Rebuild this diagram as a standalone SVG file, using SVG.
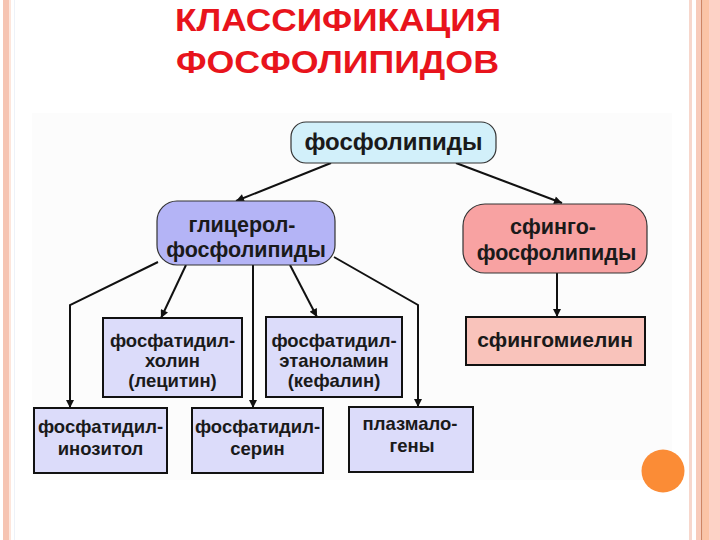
<svg xmlns="http://www.w3.org/2000/svg" width="720" height="540" viewBox="0 0 720 540">
<defs>
<style>
.t{font-family:"Liberation Sans",Arial,sans-serif;font-weight:bold;fill:#1a1a1a;text-anchor:middle}
.title{font-family:"Liberation Sans",Arial,sans-serif;font-weight:bold;fill:#e8141c;text-anchor:middle;font-size:31px}
.box{fill:#dcdcfa;stroke:#111;stroke-width:2}
.con{fill:none;stroke:#111;stroke-width:2}
</style>
<marker id="ah" viewBox="0 0 10 10" refX="10" refY="5" markerWidth="9" markerHeight="8" markerUnits="userSpaceOnUse" orient="auto"><path d="M0,0 L10,5 L0,10 z" fill="#111"/></marker>
</defs>
<rect width="720" height="540" fill="#ffffff"/>
<rect x="32" y="113" width="640" height="367" fill="#fcfcfc"/>
<!-- borders -->
<rect x="3" y="0" width="6" height="540" fill="#f6c4b2"/>
<rect x="9" y="0" width="2" height="540" fill="#fde6dc"/>
<rect x="14" y="0" width="1" height="540" fill="#eef2f8"/>
<rect x="689" y="0" width="3" height="540" fill="#f7d7cc"/>
<rect x="696" y="0" width="5" height="540" fill="#f8cbba"/>
<rect x="701" y="0" width="1.5" height="540" fill="#cf8664"/>
<rect x="702.5" y="0" width="6.5" height="540" fill="#fbc4a6"/>
<rect x="709" y="0" width="11" height="540" fill="#fdd2c6"/>
<!-- title -->
<text class="title" x="338" y="31" textLength="326" lengthAdjust="spacingAndGlyphs">КЛАССИФИКАЦИЯ</text>
<text class="title" x="337.5" y="73" textLength="323" lengthAdjust="spacingAndGlyphs">ФОСФОЛИПИДОВ</text>
<!-- connectors -->
<g id="connectors">
<path class="con" d="M331,163 L236,201" marker-end="url(#ah)"/>
<path class="con" d="M456,163 L562,203" marker-end="url(#ah)"/>
<path class="con" d="M158,262 L70,305 L70,408" marker-end="url(#ah)"/>
<path class="con" d="M186,265 L161,318" marker-end="url(#ah)"/>
<path class="con" d="M253,265 L253,408" marker-end="url(#ah)"/>
<path class="con" d="M290,265 L317,317" marker-end="url(#ah)"/>
<path class="con" d="M334,257 L418,305 L418,407" marker-end="url(#ah)"/>
<path class="con" d="M557,273 L557,317" marker-end="url(#ah)"/>
</g>
<!-- nodes -->
<g id="n-phospholipids">
<rect x="291" y="122" width="205" height="41" rx="15" fill="#d2f0fa" stroke="#333" stroke-width="1.2"/>
<text class="t" x="393.5" y="150" font-size="24">фосфолипиды</text>
</g>
<g id="n-glycero">
<rect x="157" y="201" width="178" height="64" rx="20" fill="#b4b4f6" stroke="#333" stroke-width="1.2"/>
<text class="t" x="242" y="232" font-size="21.5">глицерол-</text>
<text class="t" x="246" y="257" font-size="21.5">фосфолипиды</text>
</g>
<g id="n-sphingo">
<rect x="463" y="204" width="184" height="69" rx="22" fill="#f8a2a2" stroke="#333" stroke-width="1.2"/>
<text class="t" x="553" y="234" font-size="21.5">сфинго-</text>
<text class="t" x="556.5" y="260" font-size="21.5">фосфолипиды</text>
</g>
<g id="n-sphingomyelin">
<rect x="466" y="317" width="179" height="48" fill="#f9c3bb" stroke="#111" stroke-width="2"/>
<text class="t" x="555" y="347" font-size="21">сфингомиелин</text>
</g>
<g id="n-lecithin">
<rect class="box" x="103" y="318" width="139" height="79"/>
<text class="t" x="172.5" y="347" font-size="18.5">фосфатидил-</text>
<text class="t" x="172.5" y="367" font-size="18.5">холин</text>
<text class="t" x="172.5" y="387" font-size="18.5">(лецитин)</text>
</g>
<g id="n-kephalin">
<rect class="box" x="266" y="317" width="136" height="80"/>
<text class="t" x="334" y="347" font-size="18.5">фосфатидил-</text>
<text class="t" x="334" y="367" font-size="18.5">этаноламин</text>
<text class="t" x="334" y="387" font-size="18.5">(кефалин)</text>
</g>
<g id="n-inositol">
<rect class="box" x="34" y="408" width="133" height="65"/>
<text class="t" x="100.5" y="433" font-size="18.5">фосфатидил-</text>
<text class="t" x="100.5" y="455" font-size="18.5">инозитол</text>
</g>
<g id="n-serine">
<rect class="box" x="192" y="408" width="131" height="65"/>
<text class="t" x="257.5" y="433" font-size="18.5">фосфатидил-</text>
<text class="t" x="257.5" y="455" font-size="18.5">серин</text>
</g>
<g id="n-plasmalogens">
<rect class="box" x="349" y="407" width="124" height="65"/>
<text class="t" x="410" y="430" font-size="18.5">плазмало-</text>
<text class="t" x="412" y="452" font-size="18.5">гены</text>
</g>
<circle cx="663" cy="471" r="21.5" fill="#fb8c36"/>
</svg>
